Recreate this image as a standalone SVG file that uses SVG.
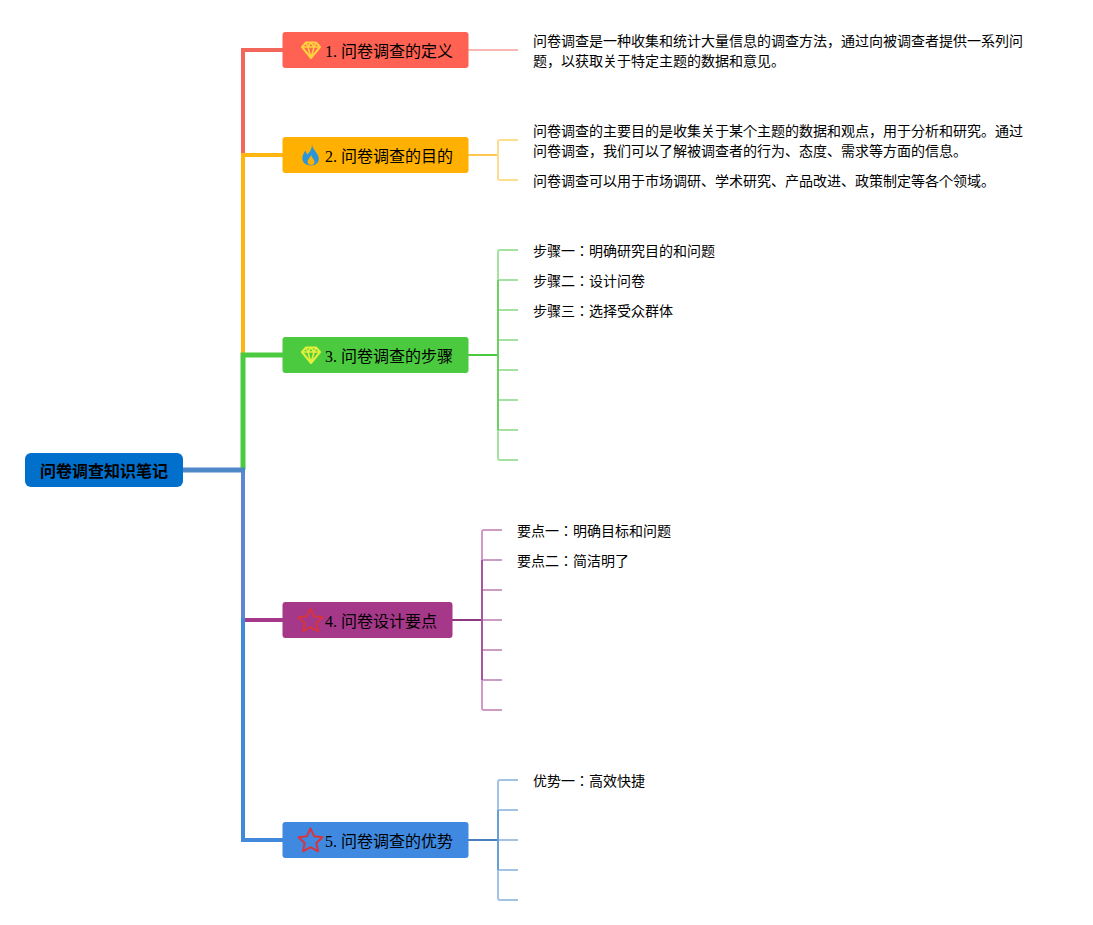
<svg xmlns="http://www.w3.org/2000/svg" width="1093" height="925" viewBox="0 0 1093 925">
<style>
text{font-family:"Liberation Serif","Noto Sans CJK JP",serif;fill:#000}
.t{font-size:16px;text-anchor:start}
.b{font-size:14px}
.r{font-size:16px;font-weight:bold}
.icon{fill:none;stroke-width:2;stroke-linejoin:round}
.facet{fill:none;stroke-width:1.6;stroke-linejoin:round}
</style>
<defs>
<g id="gem"><path d="M-5-7.500H5L9-3 0 8-9-3Z" class="icon"/><path d="M-9-3H9M-3-3 0 8 3-3M-5-7.500-3-3 0-7.500 3-3 5-7.500" class="facet"/></g>
<path id="star" d="M0-12 3.600-4.300 12-3.300 5.800 2.500 7.500 10.800 0 6.700-7.500 10.800-5.800 2.500-12-3.300-3.600-4.300Z" fill="none" stroke-width="2" stroke-linejoin="round"/>
</defs>
<g id="connectors" fill="none">
<path d="M243 155V50H283" stroke="#F2665C" stroke-width="4"/>
<path d="M243 355V155H283" stroke="#FFB60F" stroke-width="4"/>
<path d="M243 470V355H283" stroke="#4BC93F" stroke-width="5"/>
<path d="M245 620H283" stroke="#A6388A" stroke-width="4"/>
<path d="M243 620V470" stroke="#5F86D2" stroke-width="4"/>
<path d="M243 618V840H283" stroke="#4288DB" stroke-width="4"/>
<path d="M183 470H245" stroke="#4F88C8" stroke-width="5"/>
<path d="M468 50H518" stroke="#F7B8B2" stroke-width="2"/>
<path d="M468 155H498" stroke="#FFC94F" stroke-width="2"/>
<path d="M518 140H500Q498 140 498 142V178Q498 180 500 180H518" stroke="#FFDD8F" stroke-width="2"/>
<path d="M468 355H498" stroke="#4BC93F" stroke-width="2"/>
<g stroke-width="2">
<path d="M498 355V252Q498 250 500 250H518" stroke="#A5E29F"/>
<path d="M498 355V458Q498 460 500 460H518" stroke="#A5E29F"/>
<path d="M498 280H518M498 310H518M498 340H518M498 370H518M498 400H518M498 430H518" stroke="#A5E29F"/>
<path d="M498 280V430" stroke="#6BD161"/>
</g>
<path d="M452 620H482" stroke="#8C3A80" stroke-width="2"/>
<g stroke-width="2">
<path d="M482 620V532Q482 530 484 530H502M482 620V708Q482 710 484 710H502M482 560H502M482 590H502M482 620H502M482 650H502M482 680H502" stroke="#CD9BC3"/>
<path d="M482 560V680" stroke="#A6589A"/>
</g>
<path d="M468 840H498" stroke="#4A80BE" stroke-width="2"/>
<g stroke-width="2">
<path d="M498 840V782Q498 780 500 780H518M498 840V898Q498 900 500 900H518M498 810H518M498 840H518M498 870H518" stroke="#A3C3E5"/>
<path d="M498 810V870" stroke="#66A0D8"/>
</g>
</g>
<g id="root"><rect x="25" y="453" width="158" height="34" rx="6" fill="#0070CC"/><text class="r" x="104" y="476.500" text-anchor="middle">问卷调查知识笔记</text></g>
<g id="topic1"><rect x="282.500" y="32" width="186" height="36" rx="3" fill="#FF6152"/><use href="#gem" x="311" y="50" stroke="#FFD23F"/><text class="t" x="325" y="57">1. 问卷调查的定义</text></g>
<g id="topic2"><rect x="282.500" y="137" width="186" height="36" rx="3" fill="#FFB000"/><path fill-rule="evenodd" d="M312 144.500C312.500 149 316 151 318 155.500C320.500 161 317 165.500 311 165.500C305 165.500 301.500 161.500 302.500 156.500C303 154 304.500 152 305.500 150.500C306 152 306.500 153.500 307.500 154.500C309.500 152 312 149 312 144.500ZM311 155C310 158 307.500 159.500 307.500 162C307.500 164 309.500 165 311 165C313 165 314.500 164 314.500 162C314.500 159.500 312 158 311 155Z" fill="#2A95D8"/><text class="t" x="325" y="162">2. 问卷调查的目的</text></g>
<g id="topic3"><rect x="282.500" y="337" width="186" height="36" rx="3" fill="#4BC93F"/><use href="#gem" x="311" y="355" stroke="#E6F03C"/><text class="t" x="325" y="362">3. 问卷调查的步骤</text></g>
<g id="topic4"><rect x="282.500" y="602" width="170" height="36" rx="3" fill="#A6388A"/><use href="#star" x="310.500" y="620.500" stroke="#D8343F"/><text class="t" x="325" y="627">4. 问卷设计要点</text></g>
<g id="topic5"><rect x="282.500" y="822" width="186" height="36" rx="3" fill="#3F8AE0"/><use href="#star" x="310.500" y="840.500" stroke="#D8343F"/><text class="t" x="325" y="847">5. 问卷调查的优势</text></g>
<g id="leaf1"><text class="b" x="533" y="46">问卷调查是一种收集和统计大量信息的调查方法，通过向被调查者提供一系列问</text><text class="b" x="533" y="66">题，以获取关于特定主题的数据和意见。</text></g>
<g id="leaf2a"><text class="b" x="533" y="136">问卷调查的主要目的是收集关于某个主题的数据和观点，用于分析和研究。通过</text><text class="b" x="533" y="156">问卷调查，我们可以了解被调查者的行为、态度、需求等方面的信息。</text></g>
<g id="leaf2b"><text class="b" x="533" y="186">问卷调查可以用于市场调研、学术研究、产品改进、政策制定等各个领域。</text></g>
<g id="leaf3a"><text class="b" x="533" y="256">步骤一：明确研究目的和问题</text></g>
<g id="leaf3b"><text class="b" x="533" y="286">步骤二：设计问卷</text></g>
<g id="leaf3c"><text class="b" x="533" y="316">步骤三：选择受众群体</text></g>
<g id="leaf4a"><text class="b" x="517" y="536">要点一：明确目标和问题</text></g>
<g id="leaf4b"><text class="b" x="517" y="566">要点二：简洁明了</text></g>
<g id="leaf5a"><text class="b" x="533" y="786">优势一：高效快捷</text></g>
</svg>
